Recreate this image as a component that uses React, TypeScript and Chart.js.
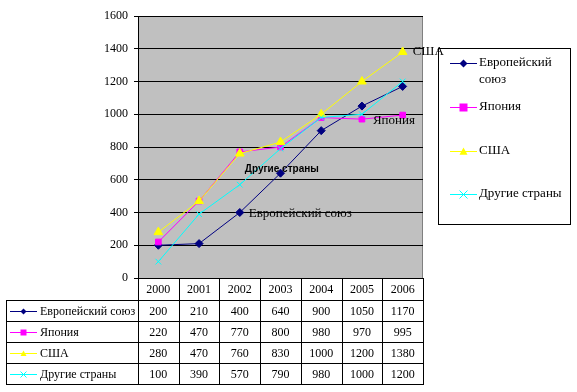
import React, { useEffect, useRef } from "react";
import { Chart, registerables } from "chart.js";

Chart.register(...registerables);

const years = ["2000", "2001", "2002", "2003", "2004", "2005", "2006"];
const euValues = [200, 210, 400, 640, 900, 1050, 1170];
const japanValues = [220, 470, 770, 800, 980, 970, 995];
const usaValues = [280, 470, 760, 830, 1000, 1200, 1380];
const otherValues = [100, 390, 570, 790, 980, 1000, 1200];
const seriesNames = ["Европейский союз", "Япония", "США", "Другие страны"];
const seriesColors = ["#000080", "#FF00FF", "#FFFF00", "#00FFFF"];
const seriesMarkers = ["diamond", "square", "triangle", "cross"];
const yMin = 0;
const yMax = 1600;
const yStep = 200;

const SERIF = "'Liberation Serif', 'Times New Roman', serif";
const SANS = "'Liberation Sans', Arial, sans-serif";

function drawMarker(ctx: CanvasRenderingContext2D, kind: string, x: number, y: number, r: number, color: string) {
  ctx.save();
  ctx.fillStyle = color;
  ctx.strokeStyle = color;
  ctx.lineWidth = 1;
  ctx.beginPath();
  if (kind === "diamond") {
    ctx.moveTo(x, y - r);
    ctx.lineTo(x + r, y);
    ctx.lineTo(x, y + r);
    ctx.lineTo(x - r, y);
    ctx.closePath();
    ctx.fill();
  } else if (kind === "square") {
    ctx.rect(x - r, y - r, 2 * r, 2 * r);
    ctx.fill();
  } else if (kind === "triangle") {
    ctx.moveTo(x, y - r);
    ctx.lineTo(x + r, y + r * 0.8);
    ctx.lineTo(x - r, y + r * 0.8);
    ctx.closePath();
    ctx.fill();
  } else {
    ctx.moveTo(x - r, y - r);
    ctx.lineTo(x + r, y + r);
    ctx.moveTo(x + r, y - r);
    ctx.lineTo(x - r, y + r);
    ctx.stroke();
  }
  ctx.restore();
}

function drawSymbol(ctx: CanvasRenderingContext2D, i: number, x0: number, x1: number, y: number, r: number) {
  ctx.save();
  ctx.strokeStyle = seriesColors[i];
  ctx.lineWidth = 1;
  ctx.beginPath();
  ctx.moveTo(x0, y + 0.5);
  ctx.lineTo(x1, y + 0.5);
  ctx.stroke();
  ctx.restore();
  drawMarker(ctx, seriesMarkers[i], (x0 + x1) / 2, y + 0.5, r, seriesColors[i]);
}

const plotBgPlugin = {
  id: "plotBg",
  beforeDraw(chart: any) {
    const { ctx, chartArea: a } = chart;
    ctx.save();
    ctx.fillStyle = "#C0C0C0";
    ctx.fillRect(a.left, a.top, a.right - a.left, a.bottom - a.top);
    ctx.strokeStyle = "#808080";
    ctx.lineWidth = 1;
    ctx.strokeRect(Math.round(a.left) + 0.5, Math.round(a.top) + 0.5, Math.round(a.right - a.left) - 1, Math.round(a.bottom - a.top));
    ctx.restore();
  },
};

const tablePlugin = {
  id: "dataTable",
  afterDraw(chart: any) {
    const { ctx, chartArea: a } = chart;
    const xs = chart.scales.x;
    const n = years.length;
    const edges: number[] = [];
    for (let i = 0; i <= n; i++) {
      edges.push(Math.round(a.left + ((a.right - a.left) * i) / n));
    }
    const top = Math.round(a.bottom);
    const rows = [top, top + 22, top + 43, top + 64, top + 85, top + 106];
    const tableLeft = 6;
    ctx.save();
    ctx.strokeStyle = "#000";
    ctx.lineWidth = 1;
    ctx.beginPath();
    for (let r = 1; r < rows.length; r++) {
      ctx.moveTo(tableLeft, rows[r] + 0.5);
      ctx.lineTo(edges[n] + 1, rows[r] + 0.5);
    }
    for (let i = 0; i <= n; i++) {
      ctx.moveTo(edges[i] + 0.5, rows[0]);
      ctx.lineTo(edges[i] + 0.5, rows[5] + 1);
    }
    ctx.moveTo(tableLeft + 0.5, rows[1]);
    ctx.lineTo(tableLeft + 0.5, rows[5] + 1);
    ctx.stroke();

    ctx.fillStyle = "#000";
    ctx.font = "12px " + SERIF;
    ctx.textAlign = "center";
    ctx.textBaseline = "middle";
    for (let i = 0; i < n; i++) {
      const cx = xs.getPixelForValue(i);
      ctx.fillText(years[i], cx, (rows[0] + rows[1]) / 2 + 1);
    }
    const all = [euValues, japanValues, usaValues, otherValues];
    for (let s = 0; s < all.length; s++) {
      const cy = (rows[s + 1] + rows[s + 2]) / 2 + 1;
      for (let i = 0; i < n; i++) {
        ctx.fillText(String(all[s][i]), xs.getPixelForValue(i), cy);
      }
    }
    ctx.textAlign = "left";
    for (let s = 0; s < seriesNames.length; s++) {
      const cy = (rows[s + 1] + rows[s + 2]) / 2;
      drawSymbol(ctx, s, 10, 37, Math.round(cy), 3);
      ctx.fillStyle = "#000";
      ctx.fillText(seriesNames[s], 40, cy + 1);
    }
    ctx.restore();
  },
};

const legendPlugin = {
  id: "boxLegend",
  afterDraw(chart: any) {
    const { ctx } = chart;
    const bx = 438;
    const by = 48;
    const bw = 132;
    const bh = 176;
    ctx.save();
    ctx.strokeStyle = "#000";
    ctx.lineWidth = 1;
    ctx.strokeRect(bx + 0.5, by + 0.5, bw, bh);
    ctx.font = "13px " + SERIF;
    ctx.fillStyle = "#000";
    ctx.textAlign = "left";
    ctx.textBaseline = "middle";
    const itemY = [63, 107, 151, 194];
    for (let s = 0; s < seriesNames.length; s++) {
      drawSymbol(ctx, s, 450, 477, itemY[s], 4);
      ctx.fillStyle = "#000";
      if (s === 0) {
        const parts = seriesNames[s].split(" ");
        ctx.fillText(parts[0], 479, itemY[s]);
        ctx.fillText(parts[1], 479, itemY[s] + 17);
      } else {
        ctx.fillText(seriesNames[s], 479, itemY[s]);
      }
    }
    ctx.restore();
  },
};

const seriesLabelPlugin = {
  id: "seriesLabels",
  afterDatasetsDraw(chart: any) {
    const { ctx } = chart;
    const specs = [
      { ds: 0, idx: 2, dx: 9, dy: 1, font: "13px " + SERIF },
      { ds: 1, idx: 5, dx: 11, dy: 1, font: "13px " + SERIF },
      { ds: 2, idx: 6, dx: 10, dy: 0, font: "13px " + SERIF },
      { ds: 3, idx: 2, dx: 5, dy: -15, font: "bold 10px " + SANS },
    ];
    ctx.save();
    ctx.fillStyle = "#000";
    ctx.textAlign = "left";
    ctx.textBaseline = "middle";
    for (const s of specs) {
      const pt = chart.getDatasetMeta(s.ds).data[s.idx];
      ctx.font = s.font;
      ctx.fillText(seriesNames[s.ds], pt.x + s.dx, pt.y + s.dy);
    }
    ctx.restore();
  },
};

export default function App() {
  const ref = useRef<HTMLCanvasElement | null>(null);
  useEffect(() => {
    if (!ref.current) return;
    const styles = ["rectRot", "rect", "triangle", "crossRot"];
    const radii = [4, 4, 5, 4];
    const values = [euValues, japanValues, usaValues, otherValues];
    const chart = new Chart(ref.current, {
      type: "line",
      data: {
        labels: years,
        datasets: values.map((v, i) => ({
          label: seriesNames[i],
          data: v,
          borderColor: seriesColors[i],
          backgroundColor: seriesColors[i],
          pointBackgroundColor: seriesColors[i],
          pointBorderColor: seriesColors[i],
          pointStyle: styles[i],
          pointRadius: radii[i],
          borderWidth: 1,
          pointBorderWidth: 1,
          tension: 0,
          fill: false,
          order: 4 - i,
        })),
      },
      options: {
        animation: false,
        responsive: false,
        devicePixelRatio: 1,
        layout: { padding: { left: 0, top: 16, right: 154, bottom: 114 } },
        plugins: { legend: { display: false }, tooltip: { enabled: false }, title: { display: false } },
        scales: {
          x: {
            type: "category",
            offset: true,
            grid: { display: false },
            ticks: { display: false },
            border: { display: true, color: "#000", width: 1 },
            afterFit: (s: any) => {
              s.height = 0;
            },
          },
          y: {
            min: yMin,
            max: yMax,
            ticks: {
              stepSize: yStep,
              color: "#000",
              font: { family: SERIF, size: 12 },
              padding: 6,
              callback: (v: any) => String(v),
            },
            grid: { color: "#000", lineWidth: 1, drawTicks: true, tickLength: 4 },
            border: { display: true, color: "#000", width: 1 },
            afterFit: (s: any) => {
              s.width = 138;
            },
          },
        },
      } as any,
      plugins: [plotBgPlugin, seriesLabelPlugin, tablePlugin, legendPlugin],
    });
    return () => chart.destroy();
  }, []);
  return (
    <div style={{ position: "fixed", left: 0, top: 0, width: 577, height: 392, background: "#fff" }}>
      <canvas ref={ref} width={577} height={392} style={{ width: 577, height: 392 }} />
    </div>
  );
}
